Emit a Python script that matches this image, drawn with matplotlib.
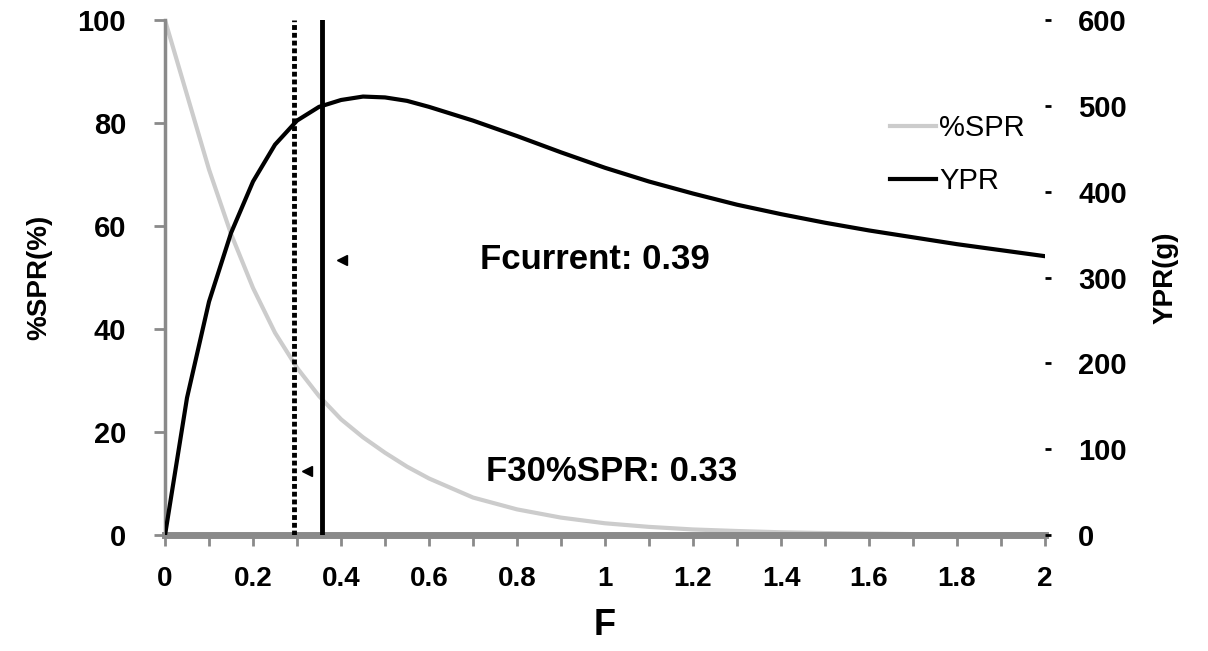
import numpy as np
import matplotlib.pyplot as plt

plt.rcParams['font.family'] = ['Liberation Sans', 'DejaVu Sans']

# values
F = [0, 0.05, 0.1, 0.15, 0.2, 0.25, 0.3, 0.35, 0.4, 0.45, 0.5, 0.55,
     0.6, 0.7, 0.8, 0.9, 1.0, 1.1, 1.2, 1.3, 1.4, 1.5, 1.6, 1.7, 1.8, 1.9, 2.0]
spr = [100, 85.5, 71, 58.5, 48, 39.3, 32.5, 27, 22.5, 19, 16, 13.3,
       11, 7.3, 5.0, 3.4, 2.3, 1.6, 1.1, 0.8, 0.55, 0.4, 0.3, 0.2, 0.15, 0.1, 0.1]
ypr = [0, 160, 272, 352, 412, 455, 483, 499, 507, 511, 510, 506,
       499, 483, 465, 446, 428, 412, 398, 385, 374, 364, 355, 347, 339, 332, 325]

f30_line = 0.293      # where the dotted line is drawn
fcur_line = 0.357     # where the solid line is drawn
f30_text = 'F30%SPR: 0.33'
fcur_text = 'Fcurrent: 0.39'

fig = plt.figure(figsize=(12.08, 6.51), dpi=100)
ax = fig.add_axes([0.1366, 0.178, 0.7285, 0.791])
ax2 = ax.twinx()

gray = '#8a8a8a'

l1, = ax.plot(F, spr, color='#cccccc', lw=3, label='%SPR', zorder=2,
              solid_joinstyle='round')
l2, = ax2.plot(F, ypr, color='black', lw=3, label='YPR', zorder=3,
               solid_joinstyle='round')

ax.axvline(f30_line, color='black', lw=3.5, ls=(0, (1, 0.6)), zorder=4)
ax.axvline(fcur_line, color='black', lw=3.5, zorder=4)

# small leader arrows beside the lines
ax.plot([fcur_line + 0.045], [53.5], marker='<', color='black', ms=7, zorder=5)
ax.plot([f30_line + 0.03], [12.5], marker='<', color='black', ms=7, zorder=5)

ax.text(0.715, 53.5, fcur_text, fontsize=25, fontweight='bold', va='center', ha='left')
ax.text(0.73, 12.3, f30_text, fontsize=25, fontweight='bold', va='center', ha='left')

ax.set_xlim(0, 2)
ax.set_ylim(0, 100)
ax2.set_ylim(0, 600)

ax.set_xticks(np.arange(0, 2.01, 0.1))
ax.set_xticklabels(['0' if i == 0 else ('%g' % (i / 10) if i % 2 == 0 else '')
                    for i in range(21)])
ax.set_yticks(np.arange(0, 101, 20))
ax2.set_yticks(np.arange(0, 601, 100))

ax.tick_params(axis='x', direction='out', length=8, width=2, color=gray,
               labelsize=20, pad=14)
ax.tick_params(axis='y', direction='out', length=8, width=2, color=gray,
               labelsize=21, pad=20)
ax2.tick_params(axis='y', direction='out', length=4, width=2, color='black',
                labelsize=21, pad=20)
for lab in ax.get_xticklabels() + ax.get_yticklabels() + ax2.get_yticklabels():
    lab.set_fontweight('bold')

for a in (ax, ax2):
    a.spines['top'].set_visible(False)
    a.spines['right'].set_visible(False)
ax2.spines['left'].set_visible(False)
ax2.spines['bottom'].set_visible(False)
ax.spines['left'].set_color(gray)
ax.spines['left'].set_linewidth(2.5)
ax.spines['bottom'].set_color(gray)
ax.spines['bottom'].set_linewidth(5)

ax.set_xlabel('F', fontsize=26, fontweight='bold', labelpad=12)
ax.set_ylabel('%SPR(%)', fontsize=20, fontweight='bold', labelpad=18)
ax2.set_ylabel('YPR(g)', fontsize=20, fontweight='bold', labelpad=18)

ax2.legend(handles=[l1, l2], loc='upper left', bbox_to_anchor=(0.81, 0.84),
           frameon=False, fontsize=21, handlelength=1.6, handletextpad=0.1,
           labelspacing=0.85, borderaxespad=0)

fig.savefig('out.png', dpi=100)
